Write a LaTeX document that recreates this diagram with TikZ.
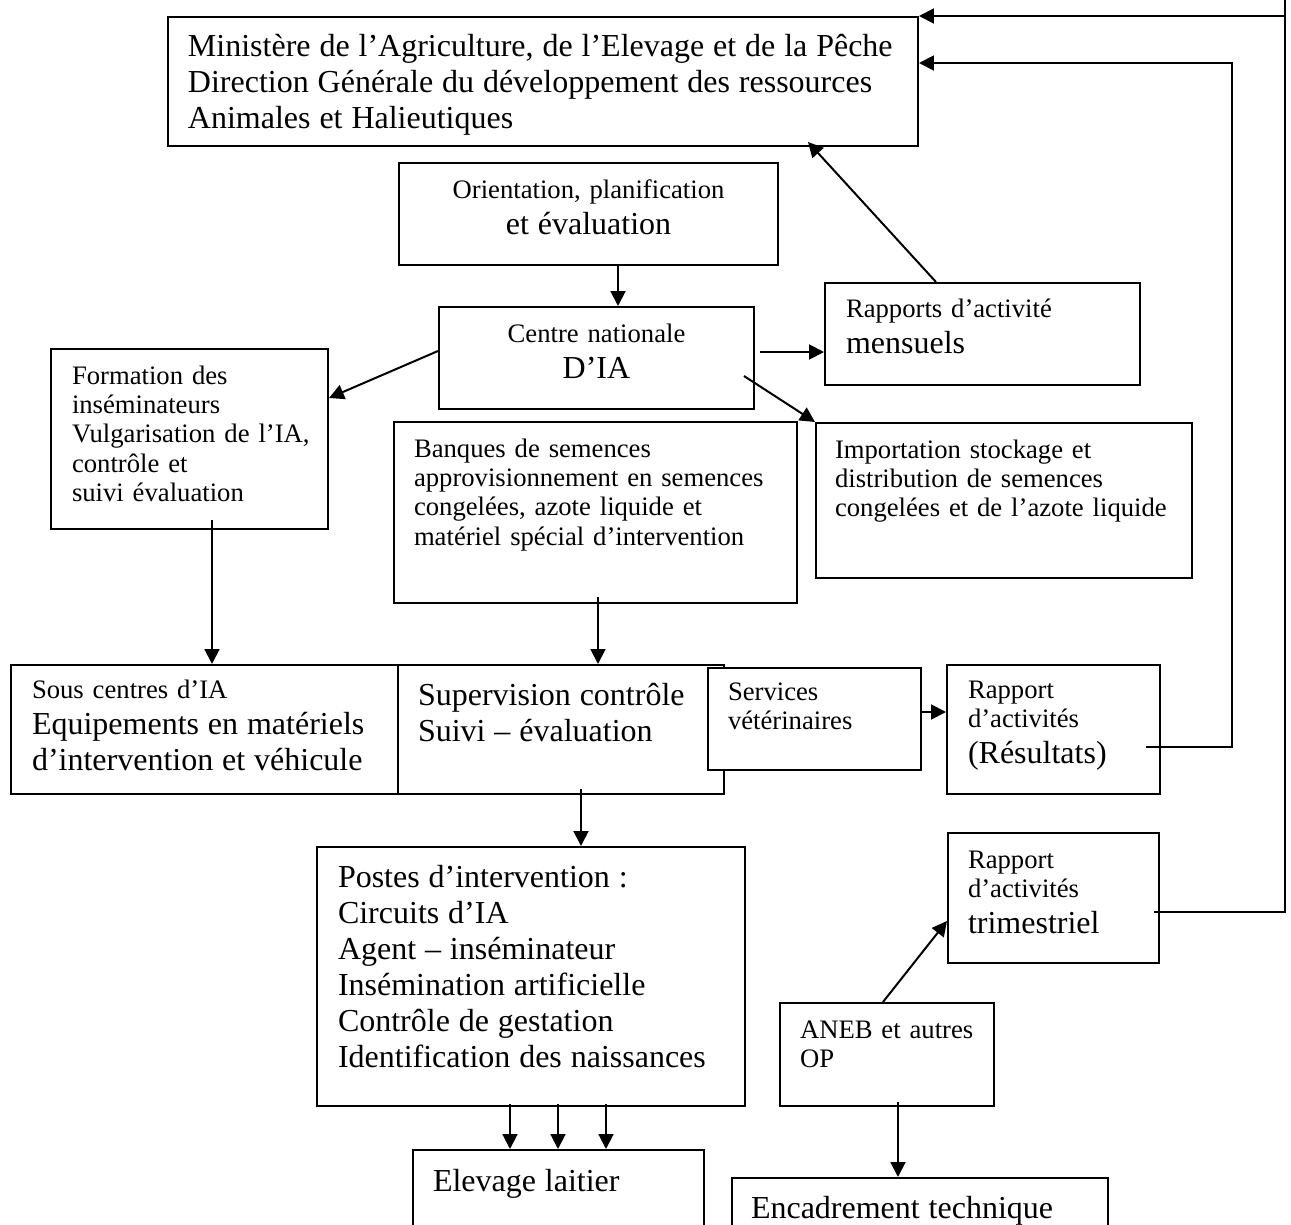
\documentclass[tikz,border=0pt]{standalone}
\usepackage{fontspec}
\setmainfont{Liberation Serif}
\usetikzlibrary{arrows.meta,calc}

\newlength\px
\setlength\px{0.375pt}
\newcommand\petit{\fontsize{10}{11}\selectfont}
\newcommand\grand{\fontsize{12}{13.5}\selectfont}

\tikzset{
  cadre/.style={draw, line width=0.75pt, fill=white, anchor=north west, inner sep=0pt, font=\petit},
  fleche/.style={line width=0.75pt, -{Triangle[length=5.6pt,width=5.6pt]}},
  trait/.style={line width=0.75pt}
}

\begin{document}
\begin{tikzpicture}[x=0.375pt, y=-0.375pt]
\useasboundingbox (0,0) rectangle (1291,1225);
\clip (0,0) rectangle (1291,1225);

% boxes
\node[cadre, text width=750*\px, text height=39*\px, text depth=90*\px] (mini) at (167,16)
  {\leftskip=20\px\grand Ministère de l’Agriculture, de l’Elevage et de la Pêche\\
   Direction Générale du développement des ressources\\Animales et Halieutiques\par};
\node[cadre, align=center, text width=379*\px, text height=35*\px, text depth=67*\px] (orient) at (398,162)
  {Orientation, planification\par\grand et évaluation\par};
\node[cadre, align=center, text width=315*\px, text height=35*\px, text depth=67*\px] (cnia) at (438,306)
  {Centre nationale\par\grand D’IA\par};
\node[cadre, text width=315*\px, text height=34*\px, text depth=68*\px] (rmens) at (824,282)
  {\leftskip=21\px Rapports d’activité\par\grand mensuels\par};
\node[cadre, text width=277*\px, text height=35*\px, text depth=145*\px] (form) at (50,348)
  {\leftskip=21\px Formation des\\inséminateurs\\Vulgarisation de l’IA,\\contrôle et\\suivi évaluation\par};
\node[cadre, text width=403*\px, text height=35*\px, text depth=146*\px] (banq) at (393,421)
  {\leftskip=20\px Banques de semences\\approvisionnement en semences\\congelées, azote liquide et\\matériel spécial d’intervention\par};
\node[cadre, text width=376*\px, text height=35*\px, text depth=120*\px] (import) at (815,422)
  {\leftskip=19\px Importation stockage et\\distribution de semences\\congelées et de l’azote liquide\par};
\node[cadre, text width=387*\px, text height=33*\px, text depth=96*\px] (sous) at (10,664)
  {\leftskip=21\px Sous centres d’IA\par\grand Equipements en matériels\\d’intervention et véhicule\par};
\node[cadre, text width=326*\px, text height=40*\px, text depth=89*\px] (super) at (397,664)
  {\leftskip=20\px\grand Supervision contrôle\\Suivi – évaluation\par};
\node[cadre, text width=213*\px, text height=32*\px, text depth=70*\px] (serv) at (707,667)
  {\leftskip=20\px Services\\vétérinaires\par};
\node[cadre, text width=213*\px, text height=33*\px, text depth=96*\px] (rres) at (946,664)
  {\leftskip=21\px Rapport\\d’activités\par\grand (Résultats)\par};
\node[cadre, text width=211*\px, text height=35*\px, text depth=95*\px] (rtrim) at (947,832)
  {\leftskip=20\px Rapport\\d’activités\par\grand trimestriel\par};
\node[cadre, text width=428*\px, text height=40*\px, text depth=219*\px] (postes) at (316,846)
  {\leftskip=21\px\grand Postes d’intervention :\\Circuits d’IA\\Agent – inséminateur\\Insémination artificielle\\Contrôle de gestation\\Identification des naissances\par};
\node[cadre, text width=214*\px, text height=35*\px, text depth=68*\px] (aneb) at (779,1002)
  {\leftskip=20\px ANEB et autres\\OP\par};
\node[cadre, text width=291*\px, text height=41*\px, text depth=50*\px] (elev) at (412,1149)
  {\leftskip=20\px\grand Elevage laitier\par};
\node[cadre, text width=376*\px, text height=40*\px, text depth=25*\px] (encad) at (731,1177)
  {\leftskip=19\px\grand Encadrement technique\par};

% arrows
\draw[fleche] (orient.south -| 618,0) -- (cnia.north -| 618,0);
\draw[fleche] (cnia.west |- 0,351) -- (form.east |- 0,398);
\draw[fleche] ($(cnia.east |- 0,352)+(5,0)$) -- (rmens.west |- 0,352);
\draw[fleche] ($(cnia.east |- 0,376)+(-11,0)$) -- (import.north west);
\draw[fleche] (rmens.north -| 936,0) -- ($(mini.south west)+(641,-5)$);
\draw[fleche] ($(form.south -| 212,0)+(0,-10)$) -- (sous.north -| 212,0);
\draw[fleche] ($(banq.south -| 598,0)+(0,-7)$) -- (super.north -| 598,0);
\draw[fleche] ($(super.south -| 581,0)+(0,-6)$) -- (postes.north -| 581,0);
\draw[fleche] (serv.east |- 0,712) -- (rres.west |- 0,712);
\foreach \x in {510,558,606}
  \draw[fleche] ($(postes.south -| \x,0)+(0,-3)$) -- (elev.north -| \x,0);
\draw[fleche] (aneb.north -| 883,0) -- (rtrim.west |- 0,921);
\draw[fleche] ($(aneb.south -| 898,0)+(0,-5)$) -- (encad.north -| 898,0);

% reports back to the ministry
\draw[fleche] ($(rres.east |- 0,747)+(-15,0)$) -- (1232,747) -- (1232,63) -- (mini.east |- 0,63);
\draw[fleche] ($(rtrim.east |- 0,912)+(-6,0)$) -- (1285,912) -- (1285,0) (1285,16) -- (mini.north east);
\end{tikzpicture}
\end{document}
